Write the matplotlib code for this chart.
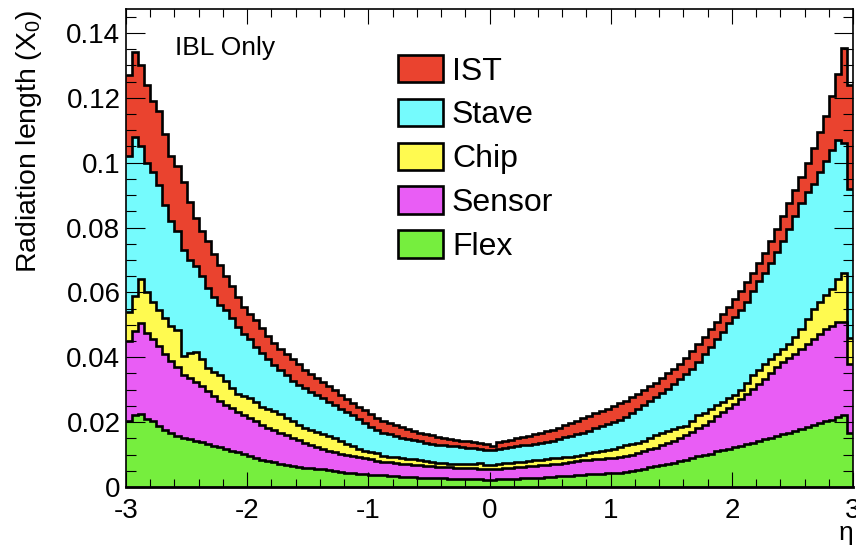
import numpy as np
import matplotlib
matplotlib.use('Agg')
import matplotlib.pyplot as plt
from matplotlib.patches import Patch
from matplotlib.ticker import MultipleLocator

plt.rcParams['font.family'] = ['Liberation Sans', 'DejaVu Sans']
plt.rcParams['mathtext.default'] = 'regular'
plt.rcParams['axes.unicode_minus'] = False

# bins in eta, 0.05 wide
eta_edges = np.linspace(-3, 3, 121)

# stacked tops (radiation length, X0)
ist_top = [
    0.127, 0.134, 0.130, 0.124, 0.119, 0.116, 0.109, 0.102, 0.099, 0.094,
    0.088, 0.083, 0.079, 0.076, 0.072, 0.0685, 0.065, 0.062, 0.0585, 0.0555,
    0.0535, 0.0515, 0.049, 0.0465, 0.0443, 0.0425, 0.041, 0.0394, 0.0378, 0.0362,
    0.0348, 0.0336, 0.0325, 0.0312, 0.0298, 0.0285, 0.0272, 0.026, 0.0248, 0.0238,
    0.0226, 0.0212, 0.0203, 0.0196, 0.019, 0.0184, 0.0178, 0.0173, 0.0168, 0.0163,
    0.0159, 0.0155, 0.0152, 0.0149, 0.0146, 0.0143, 0.0141, 0.0139, 0.0137, 0.0133,
    0.0125, 0.0138, 0.0142, 0.0146, 0.015, 0.0154, 0.0158, 0.0162, 0.0167, 0.0172,
    0.0177, 0.0183, 0.019, 0.0197, 0.0205, 0.0212, 0.022, 0.0227, 0.0234, 0.0242,
    0.025, 0.0258, 0.0266, 0.0276, 0.0287, 0.0298, 0.031, 0.0322, 0.0335, 0.035,
    0.0365, 0.038, 0.0398, 0.0418, 0.044, 0.0462, 0.0486, 0.051, 0.0532, 0.0556,
    0.058, 0.0605, 0.0632, 0.066, 0.069, 0.0722, 0.0758, 0.0795, 0.0835, 0.0875,
    0.0915, 0.0955, 0.0998, 0.1045, 0.1095, 0.1145, 0.1205, 0.1275, 0.1355, 0.124,
]
stave_top = [
    0.102, 0.108, 0.105, 0.100, 0.097, 0.093, 0.087, 0.082, 0.079, 0.073,
    0.070, 0.068, 0.065, 0.0615, 0.0585, 0.0562, 0.0545, 0.052, 0.0492, 0.0472,
    0.0455, 0.0433, 0.0412, 0.0395, 0.0377, 0.036, 0.0344, 0.0328, 0.0315, 0.0305,
    0.0294, 0.0284, 0.0274, 0.0263, 0.0253, 0.0242, 0.0232, 0.0222, 0.021, 0.0198,
    0.0186, 0.0175, 0.0168, 0.0162, 0.0157, 0.0152, 0.0148, 0.0144, 0.0141, 0.0137,
    0.0134, 0.0131, 0.0129, 0.0127, 0.0125, 0.0123, 0.0121, 0.012, 0.0118, 0.0114,
    0.0113, 0.0118, 0.012, 0.0122, 0.0125, 0.0128, 0.0131, 0.0134, 0.0136, 0.0139,
    0.0143, 0.0148, 0.0153, 0.0158, 0.0163, 0.0168, 0.0174, 0.0181, 0.0187, 0.0193,
    0.02, 0.0207, 0.0215, 0.0227, 0.024, 0.0252, 0.0265, 0.0278, 0.029, 0.0303,
    0.0317, 0.0332, 0.0348, 0.0365, 0.0385, 0.041, 0.0433, 0.0455, 0.0478, 0.0505,
    0.0525, 0.0545, 0.0572, 0.0605, 0.0635, 0.066, 0.069, 0.0725, 0.076, 0.0795,
    0.0835, 0.0875, 0.091, 0.0935, 0.097, 0.1005, 0.104, 0.107, 0.106, 0.092,
]
chip_top = [
    0.054, 0.059, 0.064, 0.060, 0.057, 0.0545, 0.052, 0.0498, 0.0485, 0.0405,
    0.0412, 0.0416, 0.0395, 0.0368, 0.0355, 0.0345, 0.0328, 0.0305, 0.0288, 0.0282,
    0.0274, 0.0262, 0.0248, 0.0241, 0.0233, 0.0224, 0.0213, 0.0203, 0.0192, 0.0182,
    0.0176, 0.017, 0.0163, 0.0157, 0.015, 0.0141, 0.0133, 0.0125, 0.0117, 0.0112,
    0.0108, 0.0104, 0.0095, 0.0094, 0.0092, 0.009, 0.0087, 0.0085, 0.0083, 0.008,
    0.0078, 0.0075, 0.0073, 0.0072, 0.0071, 0.007, 0.007, 0.0072, 0.0074, 0.0068,
    0.0069, 0.0072, 0.0073, 0.0074, 0.0076, 0.0077, 0.008, 0.0082, 0.0084, 0.0087,
    0.0089, 0.009, 0.0092, 0.0094, 0.0097, 0.01, 0.0104, 0.0107, 0.0111, 0.0113,
    0.0118, 0.0124, 0.0129, 0.0132, 0.0137, 0.0143, 0.015, 0.016, 0.0168, 0.0174,
    0.018, 0.0184, 0.0188, 0.0205, 0.0222, 0.0228, 0.0242, 0.0252, 0.0262, 0.0275,
    0.0285, 0.0298, 0.032, 0.0345, 0.0362, 0.0378, 0.0395, 0.041, 0.0425, 0.044,
    0.0462, 0.0488, 0.0518, 0.0548, 0.0572, 0.0592, 0.061, 0.064, 0.066, 0.046,
]
sensor_top = [
    0.045, 0.048, 0.0505, 0.0475, 0.0455, 0.0435, 0.041, 0.0388, 0.037, 0.0345,
    0.0336, 0.0325, 0.0312, 0.0297, 0.028, 0.0264, 0.0253, 0.0243, 0.0232, 0.0222,
    0.0212, 0.0202, 0.0192, 0.0183, 0.0176, 0.0168, 0.016, 0.0152, 0.0145, 0.0137,
    0.0128, 0.0122, 0.0117, 0.0112, 0.0107, 0.0102, 0.0098, 0.0095, 0.0092, 0.0089,
    0.0085, 0.008, 0.0077, 0.0076, 0.0074, 0.0072, 0.007, 0.0069, 0.0067, 0.0066,
    0.0064, 0.0063, 0.0062, 0.0061, 0.006, 0.006, 0.0059, 0.0058, 0.0057, 0.0055,
    0.0056, 0.0057, 0.0058, 0.0059, 0.0061, 0.0062, 0.0064, 0.0065, 0.0067, 0.0069,
    0.0071, 0.0072, 0.0074, 0.0077, 0.0079, 0.0082, 0.0084, 0.0086, 0.0087, 0.0088,
    0.0089, 0.0091, 0.0095, 0.0099, 0.0104, 0.011, 0.0116, 0.0121, 0.0128, 0.0135,
    0.0142, 0.015, 0.016, 0.0171, 0.0181, 0.0191, 0.0205, 0.022, 0.0232, 0.0243,
    0.0256, 0.0272, 0.0287, 0.0302, 0.0318, 0.0333, 0.035, 0.037, 0.0385, 0.0397,
    0.041, 0.0425, 0.044, 0.0456, 0.0472, 0.0487, 0.0498, 0.051, 0.051, 0.038,
]
flex_top = [
    0.0205, 0.0222, 0.0225, 0.021, 0.0202, 0.0188, 0.0176, 0.0166, 0.0158, 0.0152,
    0.0148, 0.0143, 0.0138, 0.0133, 0.0127, 0.0122, 0.0117, 0.0112, 0.0107, 0.0102,
    0.0096, 0.0089, 0.0083, 0.008, 0.0076, 0.0071, 0.0067, 0.0064, 0.0062, 0.006,
    0.0058, 0.0056, 0.0054, 0.0051, 0.0048, 0.0046, 0.0044, 0.0043, 0.0041, 0.004,
    0.0038, 0.0037, 0.0036, 0.0034, 0.0033, 0.0032, 0.0031, 0.003, 0.0029, 0.0028,
    0.0028, 0.0027, 0.0027, 0.0026, 0.0026, 0.0025, 0.0025, 0.0024, 0.0024, 0.0022,
    0.0023, 0.0024, 0.0025, 0.0025, 0.0026, 0.0027, 0.0027, 0.0028, 0.0029, 0.003,
    0.0032, 0.0033, 0.0034, 0.0035, 0.0037, 0.0038, 0.004, 0.0041, 0.0041, 0.0042,
    0.0043, 0.0044, 0.0046, 0.0048, 0.0052, 0.0057, 0.0062, 0.0066, 0.0069, 0.0071,
    0.0074, 0.0079, 0.0084, 0.009, 0.0095, 0.0098, 0.0103, 0.011, 0.0115, 0.0118,
    0.0122, 0.0127, 0.0132, 0.0137, 0.0142, 0.0147, 0.0152, 0.0157, 0.0162, 0.0167,
    0.0173, 0.0178, 0.0184, 0.0191, 0.0198, 0.0203, 0.0208, 0.0215, 0.0222, 0.0165,
]

labels = ['IST', 'Stave', 'Chip', 'Sensor', 'Flex']
colors = ['#EA432F', '#75FBFD', '#FFFA50', '#E95DF5', '#76EE3E']
tops = [ist_top, stave_top, chip_top, sensor_top, flex_top]

ytick_vals = [0, 0.02, 0.04, 0.06, 0.08, 0.1, 0.12, 0.14]
ytick_labels = ['0', '0.02', '0.04', '0.06', '0.08', '0.1', '0.12', '0.14']
xtick_vals = [-3, -2, -1, 0, 1, 2, 3]
xtick_labels = ['-3', '-2', '-1', '0', '1', '2', '3']

fig = plt.figure(figsize=(8.56, 5.46), dpi=100)
ax = fig.add_axes([126/856, 1 - 487/546, (853 - 126)/856, (487 - 9)/546])

# ROOT-style stack: total first, each layer filled down to zero
for top, c in zip(tops, colors):
    ax.stairs(top, eta_edges, baseline=0, fill=True, color=c, lw=0)
    ax.stairs(top, eta_edges, baseline=None, color='black', lw=1.9)

ax.set_xlim(-3, 3)
ax.set_ylim(0, 0.1474)
ax.set_xticks(xtick_vals, labels=xtick_labels)
ax.set_yticks(ytick_vals, labels=ytick_labels)
ax.xaxis.set_minor_locator(MultipleLocator(0.2))
ax.yaxis.set_minor_locator(MultipleLocator(0.005))
ax.tick_params(which='both', direction='in', top=True, right=True, width=0.8)
ax.tick_params(axis='x', which='major', length=11, pad=8, labelsize=20)
ax.tick_params(axis='x', which='minor', length=5.5)
ax.tick_params(axis='y', which='major', length=14, pad=4, labelsize=20)
ax.tick_params(axis='y', which='minor', length=7)
for s in ax.spines.values():
    s.set_linewidth(1.2)
ax.spines['bottom'].set_linewidth(2)

ax.text(0.067, 0.918, 'IBL Only', transform=ax.transAxes, fontsize=19,
        ha='left', va='center')

handles = [Patch(facecolor=c, edgecolor='black', linewidth=1.9) for c in colors]
ax.legend(handles, labels, loc='upper left', bbox_to_anchor=(398/856, 1 - 55/546),
          bbox_transform=fig.transFigure, frameon=False, fontsize=23,
          handlelength=1.41, handleheight=0.94, labelspacing=0.38,
          handletextpad=0.28, borderpad=0, borderaxespad=0)

fig.text(29/856, 1 - 10/546, 'Radiation length (X$_0$)', rotation=90,
         ha='center', va='top', fontsize=20.4)
fig.text(846/856, 1 - 545/546, 'η', ha='center', va='bottom', fontsize=19)

fig.savefig('out.png', dpi=100)
